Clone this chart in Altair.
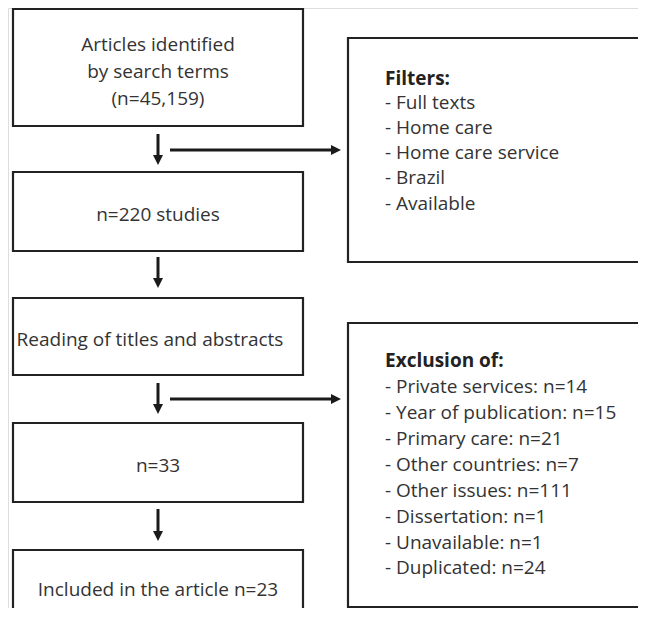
import altair as alt
import pandas as pd

# ---- content ----
main_labels = [
    ["Articles identified", "by search terms", "(n=45,159)"],
    ["n=220 studies"],
    ["Reading of titles and abstracts"],
    ["n=33"],
    ["Included in the article n=23"],
]
filters_title = "Filters:"
filters_items = ["- Full texts", "- Home care", "- Home care service", "- Brazil", "-  Available"]
excl_title = "Exclusion of:"
excl_items = [
    "- Private services: n=14",
    "- Year of publication: n=15",
    "- Primary care: n=21",
    "- Other countries: n=7",
    "- Other issues: n=111",
    "- Dissertation: n=1",
    "- Unavailable: n=1",
    "- Duplicated: n=24",
]

# ---- layout (page pixel coordinates) ----
box_x = [13, 303]
main_box_y = [(9, 126), (172, 251), (298, 375), (423, 502), (550, 660)]
main_text_x = [158, 158, 150, 158, 158]
main_text_y = [[45, 72, 99], [215], [340], [466], [590]]
side_box_x = [348, 720]
side_box_y = [(38, 262), (323, 607)]
side_text_x = 385
filters_y = [79, 103, 128, 153, 178, 204]
excl_y = [361, 387, 413, 439, 465, 491, 517, 543, 568]
vert_arrows = [(134, 165), (257, 288), (383, 414), (509, 541)]
arrow_x = 158
horiz_arrows = [150, 399]
horiz_x = (170, 341)

OFF = 8
W, H = 630, 600

boxes = []
for (y1, y2) in main_box_y:
    boxes.append(dict(x=box_x[0], x2=box_x[1], y=y1, y2=y2))
for (y1, y2) in side_box_y:
    boxes.append(dict(x=side_box_x[0], x2=side_box_x[1], y=y1, y2=y2))
boxes = pd.DataFrame(boxes)

texts = []
for lbls, tx, tys in zip(main_labels, main_text_x, main_text_y):
    for l, ty in zip(lbls, tys):
        texts.append(dict(t=l, x=tx, y=ty))
texts = pd.DataFrame(texts)

side = []
side.append(dict(t=filters_title, x=side_text_x, y=filters_y[0], b="bold"))
for l, ty in zip(filters_items, filters_y[1:]):
    side.append(dict(t=l, x=side_text_x, y=ty, b="normal"))
side.append(dict(t=excl_title, x=side_text_x, y=excl_y[0], b="bold"))
for l, ty in zip(excl_items, excl_y[1:]):
    side.append(dict(t=l, x=side_text_x, y=ty, b="normal"))
side = pd.DataFrame(side)

shafts = []
heads_down = []
for (a, b) in vert_arrows:
    shafts.append(dict(x=arrow_x, x2=arrow_x, y=a, y2=b - 8))
    heads_down.append(dict(x=arrow_x, y=b - 5))
heads_right = []
for hy in horiz_arrows:
    shafts.append(dict(x=horiz_x[0], x2=horiz_x[1] - 8, y=hy, y2=hy))
    heads_right.append(dict(x=horiz_x[1] - 5, y=hy))
shafts = pd.DataFrame(shafts)
heads_down = pd.DataFrame(heads_down)
heads_right = pd.DataFrame(heads_right)

xs = alt.Scale(domain=[OFF, OFF + W], range=[0, W])
ys = alt.Scale(domain=[OFF, OFF + H], range=[0, H])
X = lambda f="x": alt.X(f"{f}:Q", scale=xs, axis=None)
Y = lambda f="y": alt.Y(f"{f}:Q", scale=ys, axis=None)

FONT = "Open Sans"
FS = 19

rects = alt.Chart(boxes).mark_rect(fill="white", stroke="#222222", strokeWidth=2.2, clip=True).encode(
    x=X(), x2="x2:Q", y=Y(), y2="y2:Q"
)
lines = alt.Chart(shafts).mark_rule(color="#1a1a1a", strokeWidth=3, clip=True).encode(
    x=X(), x2="x2:Q", y=Y(), y2="y2:Q"
)
hd = alt.Chart(heads_down).mark_point(
    shape="M-1,-1L1,-1L0,1Z", size=100, filled=True, color="#1a1a1a", opacity=1
).encode(x=X(), y=Y())
hr = alt.Chart(heads_right).mark_point(
    shape="M-1,-1L1,0L-1,1Z", size=100, filled=True, color="#1a1a1a", opacity=1
).encode(x=X(), y=Y())

main_txt = alt.Chart(texts).mark_text(
    font=FONT, fontSize=FS, color="#333333", align="center", baseline="middle"
).encode(x=X(), y=Y(), text="t:N")

side_norm = alt.Chart(side[side.b == "normal"]).mark_text(
    font=FONT, fontSize=FS, color="#333333", align="left", baseline="middle"
).encode(x=X(), y=Y(), text="t:N")
side_bold = alt.Chart(side[side.b == "bold"]).mark_text(
    font=FONT, fontSize=FS, fontWeight="bold", color="#222222", align="left", baseline="middle"
).encode(x=X(), y=Y(), text="t:N")

chart = alt.layer(rects, lines, hd, hr, main_txt, side_norm, side_bold).properties(
    width=W, height=H, padding=0, autosize=alt.AutoSizeParams(type="none")
).configure_view(stroke=None).configure(background="white")

chart.save("out.html", embed_options={"renderer": "svg", "actions": False})
